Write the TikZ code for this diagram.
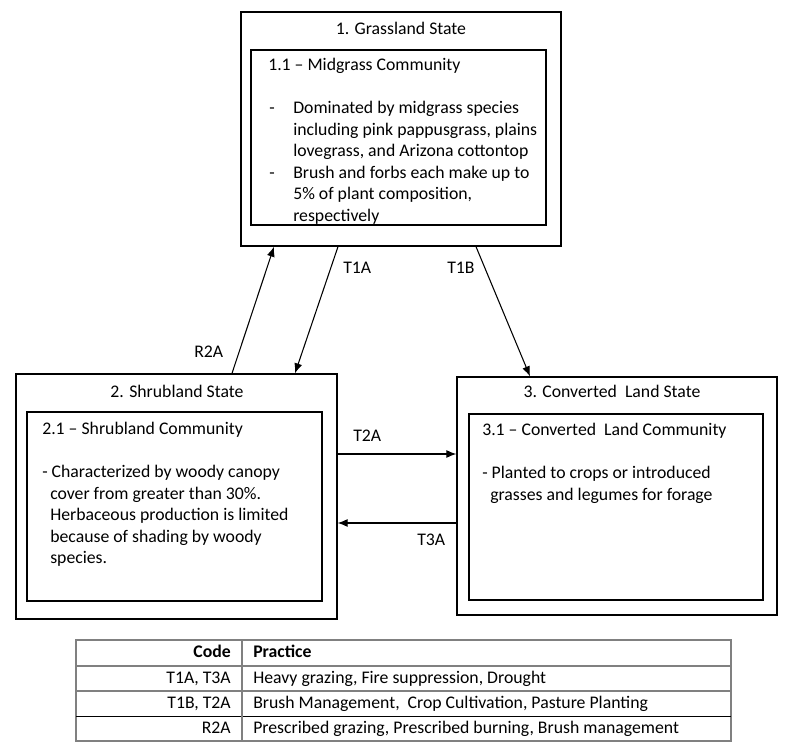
\documentclass[tikz,border=0pt]{standalone}
\usepackage{fontspec}
\setmainfont{Carlito}
\usetikzlibrary{arrows.meta,fit}

\tikzset{
  statebox/.style={draw, line width=1pt, inner sep=0pt},
  commbox/.style={draw, line width=1pt, inner sep=0pt},
  txt/.style={inner sep=0pt, anchor=base west, font=\fontsize{13.3}{16.1}\selectfont},
  ttl/.style={inner sep=0pt, anchor=base, font=\fontsize{13.3}{16.1}\selectfont},
  trans/.style={-{Latex[length=7.5pt,width=6pt]}, line width=0.8pt},
  tabline/.style={draw=gray, line width=1.1pt},
}

\begin{document}
\begin{tikzpicture}[x=0.75pt, y=-0.75pt]
\useasboundingbox[fill=white] (0,0) rectangle (800,755);

% state boxes
\node[statebox, fit={(241,12) (561,246)}] (s1) {};
\node[statebox, fit={(16,374) (337,619)}] (s2) {};
\node[statebox, fit={(457,377) (777,615)}] (s3) {};
% community boxes
\node[commbox, fit={(251,50) (546,225)}] (c1) {};
\node[commbox, fit={(27,412) (322,601)}] (c2) {};
\node[commbox, fit={(469,414) (763,600)}] (c3) {};

% titles
\node[ttl] (t1) at (401,35) {1. Grassland State};
\node[ttl] (t2) at (177,398) {2. Shrubland State};
\node[ttl] (t3) at (612,398) {3. Converted\ \ Land State};

\node[txt] (h1) at (268,71) {1.1 -- Midgrass Community};
\node[txt] (b1) at (269,114) {\begin{tabular}[t]{@{}p{18pt}@{}l@{}}
- & Dominated by midgrass species\\
  & including pink pappusgrass, plains\\
  & lovegrass, and Arizona cottontop\\
- & Brush and forbs each make up to\\
  & 5\% of plant composition,\\
  & respectively
\end{tabular}};

\node[txt] (h2) at (42,435) {2.1 -- Shrubland Community};
\node[txt] (b2) at (42,478) {\begin{tabular}[t]{@{}l@{}}
- Characterized by woody canopy\\
\hspace*{6pt}cover from greater than 30\%.\\
\hspace*{6pt}Herbaceous production is limited\\
\hspace*{6pt}because of shading by woody\\
\hspace*{6pt}species.
\end{tabular}};

\node[txt] (h3) at (482,436) {3.1 -- Converted\ \ Land Community};
\node[txt] (b3) at (482,479) {\begin{tabular}[t]{@{}l@{}}
- Planted to crops or introduced\\
\hspace*{6pt}grasses and legumes for forage
\end{tabular}};

% transitions
\draw[trans] (s2.north -| 232,0) -- (s1.south -| 274,0);
\draw[trans] (s1.south -| 338,0) -- (s2.north -| 295,0);
\draw[trans] (s1.south -| 476,0) -- (s3.north -| 530,0);
\draw[trans] (s2.east |- 0,454) -- (s3.west |- 0,454);
\draw[trans] (s3.west |- 0,523) -- (s2.east |- 0,523);

\node[txt] (r2a) at (194,358) {R2A};
\node[txt] (t1a) at (343,274) {T1A};
\node[txt] (t1b) at (447,274) {T1B};
\node[txt] (t2a) at (353,442) {T2A};
\node[txt] (t3a) at (417,545) {T3A};

% legend table
\draw[tabline] (76,640) rectangle (731,741);
\draw[tabline] (76,666) -- (731,666);
\draw[tabline] (76,691) -- (731,691);
\draw[line width=0.7pt] (76,716) -- (731,716);
\draw[tabline] (242,640) -- (242,741);
\node[txt, anchor=base east] (code) at (231,657) {\bfseries Code};
\node[txt] (prac) at (253,657) {\bfseries Practice};
\foreach \y/\c/\p in {683/{T1A, T3A}/{Heavy grazing, Fire suppression, Drought},
  708/{T1B, T2A}/{Brush Management,\ \ Crop Cultivation, Pasture Planting},
  733/{R2A}/{Prescribed grazing, Prescribed burning, Brush management}}{
  \node[txt, anchor=base east] at (231,\y) {\c};
  \node[txt] at (253,\y) {\p};
}
\end{tikzpicture}
\end{document}
